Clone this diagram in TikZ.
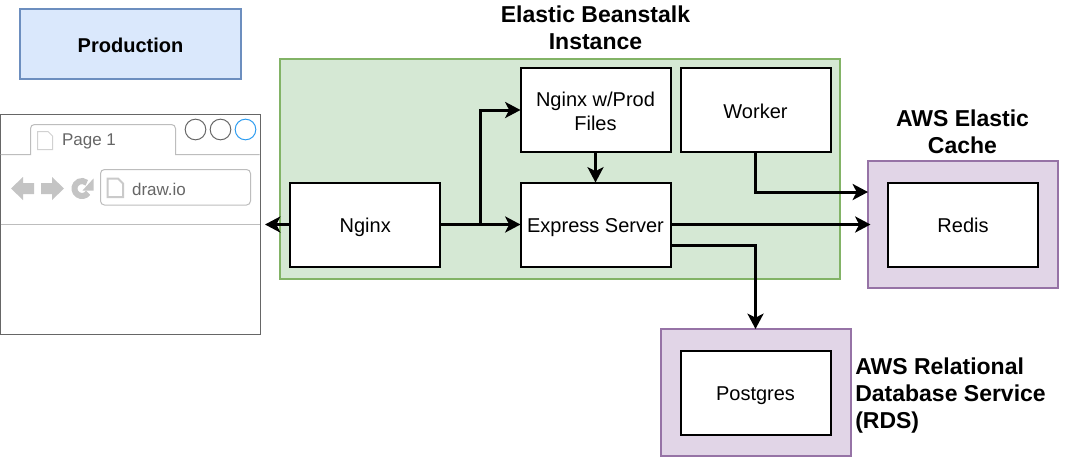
\documentclass[tikz,border=0pt]{standalone}
\usepackage{fontspec}
\setmainfont{Liberation Sans}
\usetikzlibrary{arrows.meta}

\definecolor{greenFill}{HTML}{D5E8D4}
\definecolor{greenLine}{HTML}{82B366}
\definecolor{blueFill}{HTML}{DAE8FC}
\definecolor{blueLine}{HTML}{6C8EBF}
\definecolor{purpleFill}{HTML}{E1D5E7}
\definecolor{purpleLine}{HTML}{9673A6}
\definecolor{chromeLine}{HTML}{666666}
\definecolor{chromeSoft}{HTML}{BDBDBD}
\definecolor{chromeIcon}{HTML}{C4C4C4}
\definecolor{chromeBlue}{HTML}{2D9CF0}

\tikzset{
	service/.style={draw=black, fill=white, line width=1.5pt, outer sep=0pt, align=center,
		minimum width=112.5pt, minimum height=63pt, inner sep=0pt,
		text height=14pt, text depth=2.2pt, font=\fontsize{15}{18}\selectfont},
	group/.style={line width=1.5pt, outer sep=0pt},
	heading/.style={font=\fontsize{17.25}{20.25}\selectfont\bfseries},
	flow/.style={line width=2.25pt, -{Stealth[length=11.5pt, width=12pt, inset=3pt]}},
	chromeText/.style={text=chromeLine, font=\fontsize{12.75}{15}\selectfont, inner sep=0pt},
	chromeDot/.style={draw=chromeLine, line width=0.75pt, fill=white, circle, minimum size=15.5pt, inner sep=0pt},
}

\begin{document}
\begin{tikzpicture}[x=0.75pt, y=-0.75pt]
	\useasboundingbox (0,0) rectangle (1066,457);

	% Production label
	\node[group, draw=blueLine, fill=blueFill, minimum width=165.75pt, minimum height=52.5pt,
		text height=15.5pt, text depth=2.2pt, font=\fontsize{15}{18}\selectfont\bfseries] (production) at (130.5,44) {Production};

	% Browser window
	\node[draw=chromeLine, fill=white, line width=0.75pt, outer sep=0pt, minimum width=195pt, minimum height=165pt] (browser) at (130.25,224) {};
	\draw[chromeSoft, line width=0.75pt] (0.5,154.5) -- (30.5,154.5) [rounded corners=3pt] -- (30.5,124.5) -- (175.5,124.5) [sharp corners] -- (175.5,154.5) -- (259.5,154.5);
	\draw[chromeSoft, line width=0.75pt] (0.5,224.5) -- (259.5,224.5);
	\node[chromeDot] (dotLeft) at (195.5,129.5) {};
	\node[chromeDot] (dotMiddle) at (220.5,129.5) {};
	\node[chromeDot, draw=chromeBlue] (dotRight) at (245.5,129.5) {};
	\draw[chromeSoft, line width=0.75pt, rounded corners=3pt, fill=white] (100.5,169.5) rectangle (250.5,205);
	\node[chromeText] (tabLabel) at (89,141.5) {Page 1};
	\node[chromeText] (urlLabel) at (159,189) {draw.io};

	% Page icons
	\draw[chromeSoft!70, line width=0.75pt, fill=white] (37.5,131.5) -- (48,131.5) -- (52.5,136) -- (52.5,149.5) -- (37.5,149.5) -- cycle;
	\draw[chromeSoft!80, line width=1.5pt, fill=white] (107.5,178.5) -- (118,178.5) -- (123,183.5) -- (123,197) -- (107.5,197) -- cycle;

	% Back, forward and reload icons
	\fill[chromeIcon] (11,188.5) -- (23,177) -- (23,183) -- (34,183) -- (34,194) -- (23,194) -- (23,200) -- cycle;
	\fill[chromeIcon] (64,188.5) -- (52,177) -- (52,183) -- (41,183) -- (41,194) -- (52,194) -- (52,200) -- cycle;
	\draw[chromeIcon, line width=4.5pt] (82,188.5) ++(35:7.5) arc[start angle=35, end angle=310, radius=7.5];
	\fill[chromeIcon] (93.5,178.5) -- (93.5,190.5) -- (82.5,190.5) -- cycle;

	% Elastic Beanstalk group
	\node[group, draw=greenLine, fill=greenFill, minimum width=420pt, minimum height=165pt] (beanstalk) at (560.25,169) {};
	\node[heading, align=center] (beanstalkTitle) at (595.5,28) {Elastic Beanstalk\\Instance};
	\node[service] (nginx) at (365.25,224.5) {Nginx};
	\node[service, text height=33.5pt, text depth=2.2pt] (prodFiles) at (595.5,110) {Nginx w/Prod\\Files};
	\node[service, text height=15.5pt, text depth=2.2pt] (worker) at (755.5,110) {Worker};
	\node[service] (express) at (595.5,224.5) {Express Server};

	% AWS groups
	\node[group, draw=purpleLine, fill=purpleFill, minimum width=142.5pt, minimum height=95.25pt] (cache) at (963,224) {};
	\node[service] (redis) at (963,224.5) {Redis};
	\node[heading, align=center] (cacheTitle) at (962.5,131.5) {AWS Elastic\\Cache};
	\node[group, draw=purpleLine, fill=purpleFill, minimum width=142.5pt, minimum height=95.25pt] (rds) at (755.5,392.5) {};
	\node[service] (postgres) at (755.5,393) {Postgres};
	\node[heading, align=left, anchor=west, inner sep=0pt] (rdsTitle) at (855,396) {AWS Relational\\Database Service\\(RDS)};

	% Free ends and bends
	\coordinate (browserPort) at (265,224.5);
	\coordinate (split) at (480.5,224.5);
	\coordinate (expressLow) at (671,245.5);
	\coordinate (cachePort) at (870.5,224.5);
	\coordinate (workerPort) at (cache.west |- 0,192);

	% Connectors
	\draw[flow] (nginx.west) -- (browserPort);
	\draw[flow] (nginx.east) -- (express.west);
	\draw[flow] (split) |- (prodFiles.west);
	\draw[flow] (prodFiles.south) -- (express.north);
	\draw[flow] (worker.south) |- (workerPort);
	\draw[flow] (express.east) -- (cachePort);
	\draw[flow] (expressLow) -| (rds.north);
\end{tikzpicture}
\end{document}
